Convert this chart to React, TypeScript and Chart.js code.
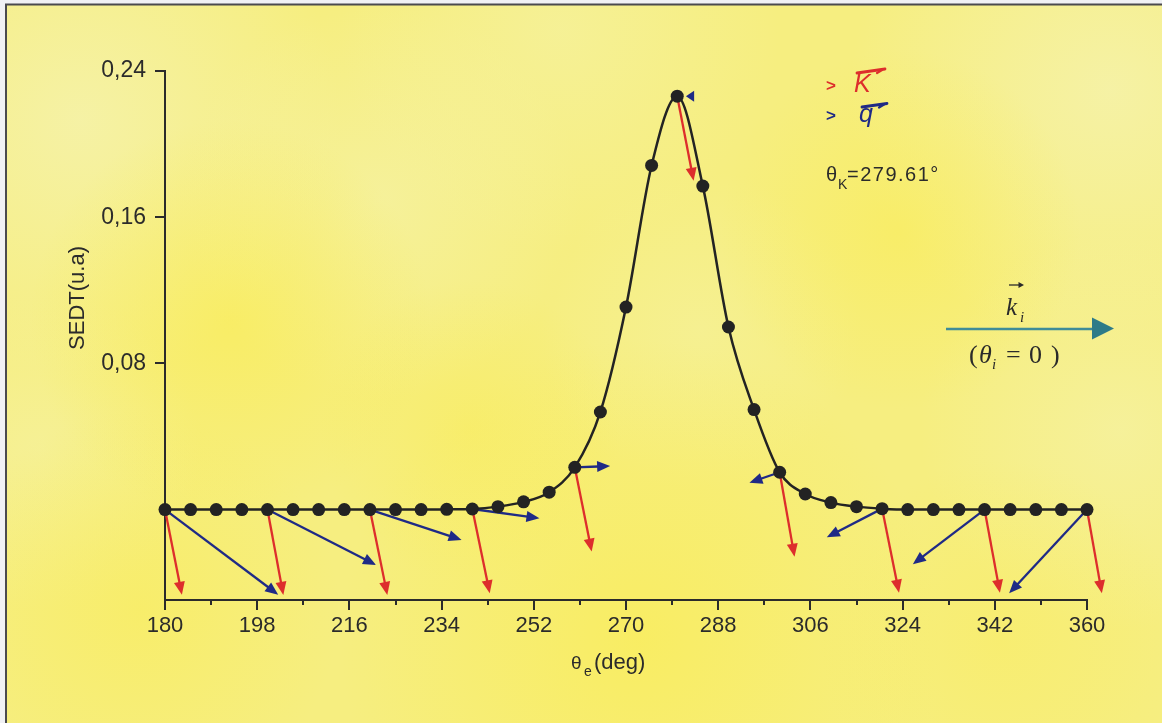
import React, { useEffect, useRef } from 'react';
import { Chart, registerables } from 'chart.js';

Chart.register(...registerables);

// ---- data ----
const thetaE = [180, 185, 190, 195, 200, 205, 210, 215, 220, 225, 230, 235, 240, 245, 250, 255, 260, 265, 270, 275, 280, 285, 290, 295, 300, 305, 310, 315, 320, 325, 330, 335, 340, 345, 350, 355, 360];
const sedt = [0, 0, 0, 0, 0, 0, 0, 0, 0, 0, 0, 0.0001, 0.0003, 0.0016, 0.0042, 0.0095, 0.0231, 0.0534, 0.1108, 0.1883, 0.2262, 0.177, 0.0999, 0.0547, 0.0204, 0.0085, 0.0038, 0.0016, 0.0005, 0, 0, 0, 0, 0, 0, 0, 0];

const xTicks = [180, 198, 216, 234, 252, 270, 288, 306, 324, 342, 360];
const xMinorTicks = [189, 207, 225, 243, 261, 279, 297, 315, 333, 351];
const yTicks = [0.08, 0.16, 0.24];

// vectors drawn at every 20 degrees
const arrowTheta = [180, 200, 220, 240, 260, 280, 300, 320, 340, 360];
// K vector tips (deg, SEDT units)
const kTipTheta = [183.3, 203.1, 223.4, 243.4, 263.3, 283.2, 302.9, 323.3, 343.0, 362.9];
const kTipValue = [-0.0466, -0.0467, -0.0467, -0.0458, -0.023, 0.1799, -0.0258, -0.0455, -0.0455, -0.0458];
// q vector tails / tips
const qTailTheta = [180, 200, 220, 240, 260, 283.3, 300, 320, 340, 360];
const qTipTheta = [202.1, 221.2, 237.9, 253.1, 266.9, 281.7, 294.1, 309.2, 326.0, 344.8];
const qTipValue = [-0.0466, -0.0303, -0.0166, -0.0048, 0.0238, 0.2262, 0.0147, -0.0152, -0.0299, -0.0458];

const thetaK = '279.61°';

const SANS = "'Liberation Sans', Arial, sans-serif";
const SERIF = "'Liberation Serif', 'Times New Roman', serif";
const AXIS = '#2b2b2b';
const RED = '#dd2e2c';
const BLUE = '#1f2a86';

function valueAt(t: number) {
  const i = thetaE.indexOf(t);
  return i >= 0 ? sedt[i] : 0;
}

function drawArrow(ctx: CanvasRenderingContext2D, x0: number, y0: number, x1: number, y1: number, color: string, width: number, headLen: number, headHalf: number) {
  const dx = x1 - x0, dy = y1 - y0;
  const len = Math.hypot(dx, dy);
  if (len < 0.5) return;
  const ux = dx / len, uy = dy / len;
  const hl = Math.min(headLen, len);
  const bx = x1 - ux * hl, by = y1 - uy * hl;
  ctx.strokeStyle = color;
  ctx.lineWidth = width;
  ctx.lineCap = 'butt';
  if (len > hl) {
    ctx.beginPath();
    ctx.moveTo(x0, y0);
    ctx.lineTo(bx + ux * 1, by + uy * 1);
    ctx.stroke();
  }
  ctx.fillStyle = color;
  ctx.beginPath();
  ctx.moveTo(x1, y1);
  ctx.lineTo(bx - uy * headHalf, by + ux * headHalf);
  ctx.lineTo(bx + uy * headHalf, by - ux * headHalf);
  ctx.closePath();
  ctx.fill();
}

const backgroundPlugin = {
  id: 'bg',
  beforeDraw(chart: any) {
    const ctx: CanvasRenderingContext2D = chart.ctx;
    const W = chart.width, H = chart.height;
    ctx.save();
    ctx.fillStyle = '#f0f1f4';
    ctx.fillRect(0, 0, W, H);
    ctx.fillStyle = '#f6ee80';
    ctx.fillRect(7, 5, W - 7, H - 5);
    ctx.beginPath();
    ctx.rect(7, 5, W - 7, H - 5);
    ctx.clip();
    const blot = (x: number, y: number, r: number, c: string) => {
      const g = ctx.createRadialGradient(x, y, 0, x, y, r);
      g.addColorStop(0, c);
      g.addColorStop(1, c.replace(/[\d.]+\)$/, '0)'));
      ctx.fillStyle = g;
      ctx.fillRect(x - r, y - r, 2 * r, 2 * r);
    };
    // pale patches
    blot(80, 120, 260, 'rgba(245,243,180,0.7)');
    blot(380, 200, 200, 'rgba(245,243,175,0.55)');
    blot(1110, 90, 260, 'rgba(245,243,180,0.7)');
    blot(1120, 430, 200, 'rgba(245,243,175,0.55)');
    blot(560, 30, 220, 'rgba(245,243,170,0.5)');
    blot(700, 330, 160, 'rgba(245,243,170,0.4)');
    blot(40, 450, 160, 'rgba(245,243,175,0.45)');
    // bright patches
    blot(230, 320, 200, 'rgba(250,236,80,0.55)');
    blot(900, 230, 180, 'rgba(250,236,80,0.5)');
    blot(640, 640, 300, 'rgba(250,236,80,0.6)');
    blot(140, 610, 200, 'rgba(250,236,80,0.45)');
    blot(470, 430, 150, 'rgba(250,236,80,0.4)');
    blot(1000, 640, 180, 'rgba(250,236,90,0.4)');
    ctx.restore();
    // frame
    ctx.save();
    ctx.strokeStyle = '#4a4a4e';
    ctx.lineWidth = 2;
    ctx.beginPath();
    ctx.moveTo(6, H);
    ctx.lineTo(6, 4.5);
    ctx.lineTo(W, 4.5);
    ctx.stroke();
    ctx.restore();
  },
};

const arrowsPlugin = {
  id: 'vectors',
  beforeDatasetsDraw(chart: any) {
    const ctx: CanvasRenderingContext2D = chart.ctx;
    const xs = chart.scales.x, ys = chart.scales.y;
    ctx.save();
    arrowTheta.forEach((t, i) => {
      const v = valueAt(t);
      // q vectors
      drawArrow(ctx, xs.getPixelForValue(qTailTheta[i]), ys.getPixelForValue(v), xs.getPixelForValue(qTipTheta[i]), ys.getPixelForValue(qTipValue[i]), BLUE, 2.3, 13, 5.5);
      // K vectors
      drawArrow(ctx, xs.getPixelForValue(t), ys.getPixelForValue(v), xs.getPixelForValue(kTipTheta[i]), ys.getPixelForValue(kTipValue[i]), RED, 2.3, 13, 5.5);
    });
    ctx.restore();
  },
};

const decorPlugin = {
  id: 'decor',
  afterDraw(chart: any) {
    const ctx: CanvasRenderingContext2D = chart.ctx;
    const xs = chart.scales.x;
    const area = chart.chartArea;
    ctx.save();
    // minor x ticks
    ctx.strokeStyle = AXIS;
    ctx.lineWidth = 2;
    xMinorTicks.forEach((t) => {
      const px = Math.round(xs.getPixelForValue(t));
      ctx.beginPath();
      ctx.moveTo(px, area.bottom);
      ctx.lineTo(px, area.bottom + 5);
      ctx.stroke();
    });

    ctx.fillStyle = AXIS;
    ctx.textBaseline = 'alphabetic';
    // y title
    ctx.save();
    ctx.translate(84, 298);
    ctx.rotate(-Math.PI / 2);
    ctx.textAlign = 'center';
    ctx.font = `22px ${SANS}`;
    ctx.fillText('SEDT(u.a)', 0, 0);
    ctx.restore();

    // x title: θe(deg)
    ctx.textAlign = 'left';
    ctx.font = `19px ${SANS}`;
    ctx.fillText('θ', 571, 669);
    ctx.font = `14px ${SANS}`;
    ctx.fillText('e', 584, 676);
    ctx.font = `22px ${SANS}`;
    ctx.fillText('(deg)', 594, 669);

    // legend
    ctx.font = `bold 17px ${SANS}`;
    ctx.fillStyle = RED;
    ctx.fillText('>', 826, 91);
    ctx.fillStyle = BLUE;
    ctx.fillText('>', 826, 121);
    ctx.font = `italic 25px ${SANS}`;
    ctx.fillStyle = RED;
    ctx.fillText('K', 854, 92);
    ctx.fillStyle = BLUE;
    ctx.fillText('q', 859, 122);
    const overArrow = (x0: number, y0: number, x1: number, y1: number, c: string) => {
      ctx.strokeStyle = c;
      ctx.lineWidth = 2.8;
      ctx.lineCap = 'round';
      ctx.beginPath();
      ctx.moveTo(x0, y0);
      ctx.lineTo(x1, y1);
      ctx.stroke();
      ctx.lineWidth = 2.2;
      ctx.beginPath();
      ctx.moveTo(x1 - 8, y1 + 4);
      ctx.lineTo(x1 - 3, y1 + 1);
      ctx.stroke();
    };
    overArrow(857, 73, 885, 69, RED);
    overArrow(862, 107, 887, 103.5, BLUE);

    // theta_K
    ctx.fillStyle = AXIS;
    ctx.font = `20px ${SANS}`;
    ctx.fillText('θ', 826, 181);
    ctx.font = `14px ${SANS}`;
    ctx.fillText('K', 838, 189);
    ctx.font = `20px ${SANS}`;
    (ctx as any).letterSpacing = '1.5px';
    ctx.fillText('=' + thetaK, 847, 181);
    (ctx as any).letterSpacing = '0px';

    // incident beam k_i
    ctx.strokeStyle = '#3f8c98';
    ctx.lineWidth = 2.6;
    ctx.lineCap = 'butt';
    ctx.beginPath();
    ctx.moveTo(946, 329);
    ctx.lineTo(1094, 329);
    ctx.stroke();
    ctx.fillStyle = '#2e7b88';
    ctx.beginPath();
    ctx.moveTo(1114, 328.5);
    ctx.lineTo(1092, 317.5);
    ctx.lineTo(1092, 339.5);
    ctx.closePath();
    ctx.fill();

    ctx.fillStyle = '#2a2a2a';
    ctx.font = `italic 25px ${SERIF}`;
    ctx.fillText('k', 1006, 315);
    ctx.font = `italic 15px ${SERIF}`;
    ctx.fillText('i', 1020, 322);
    // small vector arrow over k
    ctx.strokeStyle = '#2a2a2a';
    ctx.lineWidth = 1.3;
    ctx.beginPath();
    ctx.moveTo(1009, 285);
    ctx.lineTo(1022, 285);
    ctx.stroke();
    ctx.fillStyle = '#2a2a2a';
    ctx.beginPath();
    ctx.moveTo(1024, 285);
    ctx.lineTo(1018.5, 282);
    ctx.lineTo(1018.5, 288);
    ctx.closePath();
    ctx.fill();

    // (θi = 0)
    ctx.font = `26px ${SERIF}`;
    ctx.fillText('(', 969, 363);
    ctx.font = `italic 26px ${SERIF}`;
    ctx.fillText('θ', 979, 363);
    ctx.font = `italic 15px ${SERIF}`;
    ctx.fillText('i', 992, 369);
    ctx.font = `26px ${SERIF}`;
    ctx.fillText('=', 1006, 363);
    ctx.fillText('0', 1029, 363);
    ctx.fillText(')', 1051, 363);

    ctx.restore();
  },
};

export default function App() {
  const ref = useRef<HTMLCanvasElement>(null);

  useEffect(() => {
    const canvas = ref.current;
    if (!canvas) return;
    const chart = new Chart(canvas, {
      type: 'line',
      data: {
        datasets: [
          {
            data: thetaE.map((t, i) => ({ x: t, y: sedt[i] })),
            borderColor: '#232323',
            borderWidth: 2.5,
            backgroundColor: '#232323',
            pointBackgroundColor: '#232323',
            pointBorderColor: '#232323',
            pointRadius: 6.5,
            pointBorderWidth: 0,
            cubicInterpolationMode: 'monotone',
            fill: false,
            clip: false as any,
          },
        ],
      },
      options: {
        responsive: false,
        animation: false,
        events: [],
        layout: { padding: { left: 0, top: 71, right: 75, bottom: 0 } },
        plugins: {
          legend: { display: false },
          tooltip: { enabled: false },
          title: { display: false },
        },
        scales: {
          x: {
            type: 'linear',
            min: 180,
            max: 360,
            afterBuildTicks: (s: any) => {
              s.ticks = xTicks.map((v) => ({ value: v }));
            },
            afterFit: (s: any) => {
              s.height = 123;
            },
            grid: { drawOnChartArea: false, tickLength: 10, color: AXIS, lineWidth: 2 },
            border: { color: AXIS, width: 2 },
            ticks: {
              color: AXIS,
              font: { family: SANS, size: 22 },
              padding: 3,
              maxRotation: 0,
              autoSkip: false,
              callback: (v: any) => String(v),
            },
          },
          y: {
            type: 'linear',
            min: -0.0495,
            max: 0.24,
            afterBuildTicks: (s: any) => {
              s.ticks = yTicks.map((v) => ({ value: v }));
            },
            afterFit: (s: any) => {
              s.width = 165;
            },
            grid: { drawOnChartArea: false, tickLength: 10, color: AXIS, lineWidth: 2 },
            border: { color: AXIS, width: 2 },
            ticks: {
              color: AXIS,
              font: { family: SANS, size: 23 },
              padding: 9,
              autoSkip: false,
              callback: (v: any) => Number(v).toFixed(2).replace('.', ','),
            },
          },
        },
      },
      plugins: [backgroundPlugin, arrowsPlugin, decorPlugin],
    });
    return () => chart.destroy();
  }, []);

  return (
    <div style={{ position: 'fixed', left: 0, top: 0, width: 1162, height: 723 }}>
      <canvas ref={ref} width={1162} height={723} style={{ display: 'block', width: 1162, height: 723 }} />
    </div>
  );
}
